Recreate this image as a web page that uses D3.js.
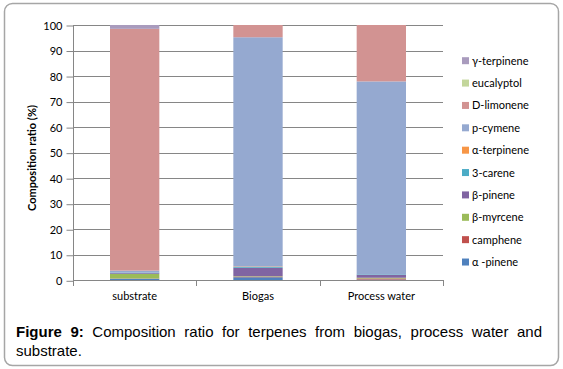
<!DOCTYPE html>
<html>
<head>
<meta charset="utf-8">
<script src="https://cdn.jsdelivr.net/npm/d3@7"></script>
<style>
  body { margin: 0; background: #fff; }
  #wrap { position: relative; width: 563px; height: 369px; }
  #caption {
    position: absolute; left: 16px; top: 322px; width: 526px;
    font: 15px "Liberation Sans", Arial, sans-serif; line-height: 19px;
    text-align: justify; text-align-last: left; color: #000;
  }
</style>
</head>
<body>
<div id="wrap">
  <div id="chart"></div>
  <div id="caption"><b>Figure 9:</b> Composition ratio for terpenes from biogas, process water and substrate.</div>
</div>
<script>
// categories and series (stack order bottom -> top)
const categories = ["substrate", "Biogas", "Process water"];
const series = ["α -pinene", "camphene", "β-myrcene", "β-pinene", "3-carene",
                "α-terpinene", "p-cymene", "D-limonene", "eucalyptol", "γ-terpinene"];
const colors = ["#4F81BD", "#C0504D", "#9BBB59", "#8064A2", "#4BACC6",
                "#F79646", "#95A9D0", "#D29392", "#C3D69B", "#A99BBD"];

// values per series, one per category (%)
const alphaPinene = [0.6, 1.2, 0.3];
const camphene    = [0.1, 0.2, 0.4];
const myrcene     = [1.8, 0.2, 0.3];
const betaPinene  = [0.3, 3.3, 1.2];
const carene      = [0.2, 0.3, 0.2];
const terpinene   = [0.0, 0.2, 0.0];
const pCymene     = [0.8, 89.8, 75.5];
const limonene    = [94.7, 4.8, 22.1];
const eucalyptol  = [0.0, 0.0, 0.0];
const gTerpinene  = [1.5, 0.0, 0.0];

const yTicks = [0, 10, 20, 30, 40, 50, 60, 70, 80, 90, 100];

const valuesBySeries = [alphaPinene, camphene, myrcene, betaPinene, carene,
                        terpinene, pCymene, limonene, eucalyptol, gTerpinene];

const table = categories.map((c, i) => {
  const row = {cat: c};
  series.forEach((s, j) => row[s] = valuesBySeries[j][i]);
  return row;
});

const width = 563, height = 369;
const marginLeft = 73, plotRight = 443, plotTop = 25, plotBottom = 280.3;

const svg = d3.select("#chart").append("svg")
  .attr("width", width).attr("height", height)
  .style("position", "absolute").style("left", 0).style("top", 0);

// outer frame
svg.append("rect")
  .attr("x", 4.5).attr("y", 3.5).attr("width", 554).attr("height", 362)
  .attr("rx", 8).attr("fill", "none")
  .attr("stroke", "#A6A6A6").attr("stroke-width", 1.5);

const x = d3.scaleBand()
  .domain(categories)
  .range([marginLeft, plotRight])
  .paddingInner(0.6).paddingOuter(0.3);

const y = d3.scaleLinear().domain([0, 100]).range([plotBottom, plotTop]);

// gridlines
svg.append("g")
  .selectAll("line")
  .data(yTicks.filter(d => d > 0))
  .join("line")
    .attr("x1", marginLeft).attr("x2", plotRight)
    .attr("y1", d => Math.round(y(d)) + 0.5).attr("y2", d => Math.round(y(d)) + 0.5)
    .attr("stroke", "#868686");

// y axis
svg.append("g")
  .attr("transform", `translate(${marginLeft + 0.5},0.5)`)
  .call(d3.axisLeft(y).tickValues(yTicks).tickSize(7).tickPadding(4))
  .call(g => g.select(".domain").attr("stroke", "#868686").attr("d", `M0,${y(100)}V${y(0)}`))
  .call(g => g.selectAll(".tick line").attr("stroke", "#868686"))
  .call(g => g.selectAll("text").attr("font-family", "Lato, 'Open Sans', sans-serif")
    .attr("font-size", 11).attr("fill", "#000"));

// stacked bars
const stack = d3.stack().keys(series)(table);
svg.append("g")
  .selectAll("g")
  .data(stack)
  .join("g")
    .attr("fill", (d, i) => colors[i])
  .selectAll("rect")
  .data(d => d)
  .join("rect")
    .attr("x", d => x(d.data.cat))
    .attr("width", x.bandwidth())
    .attr("y", d => y(d[1]))
    .attr("height", d => y(d[0]) - y(d[1]));

// x axis line and ticks at category boundaries
const xAxis = svg.append("g").attr("stroke", "#868686");
xAxis.append("line")
  .attr("x1", marginLeft).attr("x2", plotRight)
  .attr("y1", Math.round(plotBottom) + 0.5).attr("y2", Math.round(plotBottom) + 0.5);
xAxis.selectAll(".xt")
  .data(d3.range(categories.length + 1))
  .join("line")
    .attr("class", "xt")
    .attr("x1", i => Math.round(marginLeft + i * x.step()) + 0.5)
    .attr("x2", i => Math.round(marginLeft + i * x.step()) + 0.5)
    .attr("y1", Math.round(plotBottom)).attr("y2", Math.round(plotBottom) + 6);

svg.append("g")
  .selectAll("text")
  .data(categories)
  .join("text")
    .attr("x", d => x(d) + x.bandwidth() / 2)
    .attr("y", 300)
    .attr("text-anchor", "middle")
    .attr("font-family", "Lato, 'Open Sans', sans-serif")
    .attr("font-size", 11)
    .text(d => d);

// y axis title
svg.append("text")
  .attr("transform", `translate(36,158) rotate(-90)`)
  .attr("text-anchor", "middle")
  .attr("font-family", "Lato, 'Open Sans', sans-serif")
  .attr("font-size", 11).attr("font-weight", "bold")
  .text("Composition ratio (%)");

// legend (top item is last series)
const legend = svg.append("g")
  .selectAll("g")
  .data(series.map((s, i) => ({s, c: colors[i]})).reverse())
  .join("g")
    .attr("transform", (d, i) => `translate(462,${60.7 + i * 22.37})`);
legend.append("rect")
  .attr("x", 0).attr("y", -3.5).attr("width", 7).attr("height", 7)
  .attr("fill", d => d.c);
legend.append("text")
  .attr("x", 10).attr("y", 4)
  .attr("font-family", "Lato, 'Open Sans', sans-serif")
  .attr("font-size", 11)
  .text(d => d.s);
</script>
</body>
</html>
